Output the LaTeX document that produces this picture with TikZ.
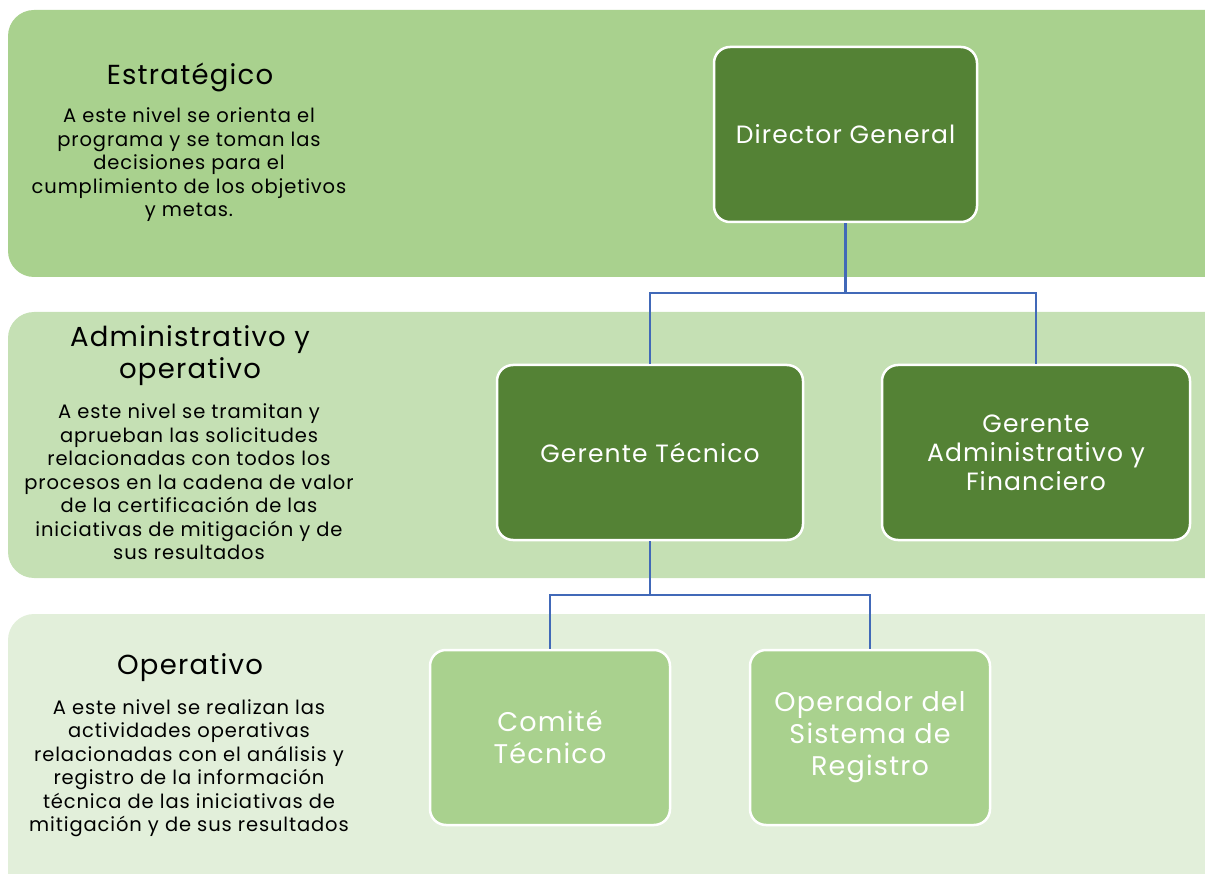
\documentclass[tikz,border=0pt]{standalone}
\usepackage{fontspec}
\setmainfont{Poppins}[LetterSpace=4.5]
\definecolor{bandA}{HTML}{A9D18E}
\definecolor{bandB}{HTML}{C5E0B4}
\definecolor{bandC}{HTML}{E2EFDA}
\definecolor{darkbox}{HTML}{548235}
\definecolor{lightbox}{HTML}{A9D18E}
\definecolor{linkblue}{HTML}{4169B8}
\tikzset{
  band/.style={rounded corners=26pt},
  darknode/.style={draw=white, line width=2.5pt, fill=darkbox, rounded corners=16pt, text=white, align=center, inner sep=0pt, font=\fontsize{25}{29}\selectfont},
  lightnode/.style={draw=white, line width=2.5pt, fill=lightbox, rounded corners=16pt, text=white, align=center, inner sep=0pt, font=\fontsize{27}{32}\selectfont},
  titletext/.style={align=center, text=black, inner sep=0pt, font=\fontsize{27.5}{32}\selectfont},
  bodytext/.style={align=center, text=black, inner sep=0pt, font=\fontsize{19.5}{23.5}\selectfont},
  link/.style={draw=linkblue, line width=2.8pt}
}
\begin{document}
\begin{tikzpicture}[x=1pt,y=-1pt]
\useasboundingbox (0,0) rectangle (1205,874);
\clip (0,0) rectangle (1205,874);
% bands
\fill[bandA, band] (8,10) rectangle (1232,277);
\fill[bandB, band] (8,312) rectangle (1232,578);
\fill[bandC, band] (8,614) rectangle (1232,900);
% band texts
\node[titletext] (t1) at (190,77) {Estratégico};
\node[bodytext] (b1) at (189,165) {A este nivel se orienta el\\programa y se toman las\\decisiones para el\\cumplimiento de los objetivos\\y metas.};
\node[titletext] (t2) at (190,356) {Administrativo y\\operativo};
\node[bodytext] (b2) at (189,482) {A este nivel se tramitan y\\aprueban las solicitudes\\relacionadas con todos los\\procesos en la cadena de valor\\de la certificación de las\\iniciativas de mitigación y de\\sus resultados};
\node[titletext] (t3) at (190,668) {Operativo};
\node[bodytext] (b3) at (189,768) {A este nivel se realizan las\\actividades operativas\\relacionadas con el análisis y\\registro de la información\\técnica de las iniciativas de\\mitigación y de sus resultados};
% boxes
\node[darknode, minimum width=263pt, minimum height=175pt] (dg) at (845.5,134.5) {Director General};
\node[darknode, minimum width=306pt, minimum height=175pt] (gt) at (650,452.5) {Gerente Técnico};
\node[darknode, minimum width=308pt, minimum height=175pt] (ga) at (1036,452.5) {Gerente\\Administrativo y\\Financiero};
\node[lightnode, minimum width=240pt, minimum height=175pt] (ct) at (550,737.5) {Comité\\Técnico};
\node[lightnode, minimum width=240pt, minimum height=175pt] (op) at (870,737.5) {Operador del\\Sistema de\\Registro};
% connectors
\coordinate (j1) at (845.5,293);
\coordinate (j2) at (650,595);
\draw[link] (dg.south) -- (j1);
\draw[link] (gt.north) |- (j1) -| (ga.north);
\draw[link] (gt.south) -- (j2);
\draw[link] (ct.north) |- (j2) -| (op.north);
\end{tikzpicture}
\end{document}
